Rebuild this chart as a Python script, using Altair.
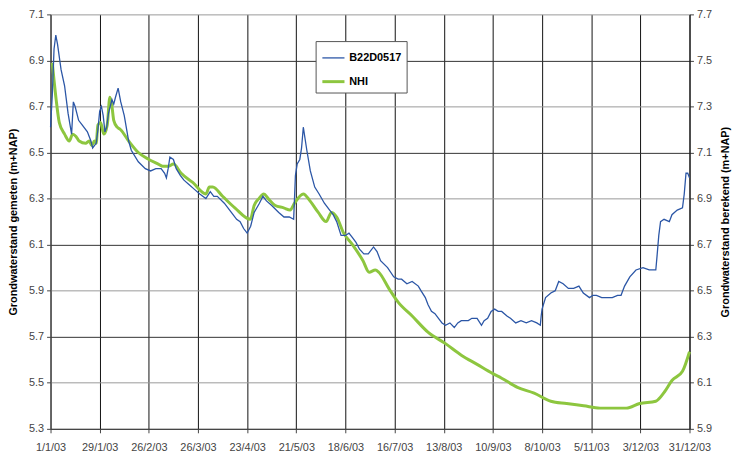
import altair as alt
import pandas as pd

# ---------------- data (days since 1 Jan 2003) ----------------
blue_name = "B22D0517"
green_name = "NHI"

blue_day = [0, 1, 2, 3, 4, 6, 8, 10, 12, 13, 14, 16, 18, 21, 23, 24, 26, 27, 28, 29,
            30, 31, 32, 33, 35, 36, 37, 38.5, 40, 42, 44.5, 46, 50, 54, 57, 60, 63, 65, 66, 67,
            68, 70, 71.6, 74, 76, 79, 82, 85, 88.5, 91, 93, 95, 99, 103, 106, 108, 110, 112, 114, 116,
            119, 121, 123, 126, 130, 133, 136, 138.5, 139.5, 140.5, 142, 143, 144, 145, 146, 148, 150.5, 153, 156, 159,
            161, 163, 165.5, 168, 170, 172, 174, 176, 178.5, 181, 184, 186, 188, 192, 195.5, 198, 200, 203, 206, 209.5,
            211, 213.5, 215, 217, 219, 221, 223, 225, 227.5, 230, 232, 234, 236, 238, 240, 243, 245.5, 247, 249, 251,
            253, 255, 257, 260, 262, 265, 268, 271, 274, 277, 279, 279.5, 280, 282, 285, 287.5, 289.5, 292, 295, 298,
            301, 303.5, 307, 309, 311, 314, 317, 320, 323, 325, 327, 330, 333.5, 337.5, 341, 344.8, 345.5, 346.5, 347.5, 349.5,
            352.5, 354, 357, 360, 361, 362, 363, 364]
blue_val = [6.61, 6.75, 6.95, 7.01, 6.97, 6.86, 6.79, 6.67, 6.58, 6.72, 6.70, 6.64, 6.62, 6.59, 6.55, 6.52, 6.54, 6.60, 6.68, 6.70,
            6.66, 6.59, 6.61, 6.67, 6.73, 6.71, 6.74, 6.78, 6.72, 6.66, 6.55, 6.51, 6.46, 6.43, 6.42, 6.43, 6.43, 6.41, 6.39, 6.43,
            6.48, 6.47, 6.43, 6.40, 6.38, 6.36, 6.34, 6.32, 6.30, 6.33, 6.31, 6.31, 6.28, 6.24, 6.21, 6.20, 6.17, 6.15, 6.18, 6.24,
            6.28, 6.31, 6.29, 6.27, 6.24, 6.22, 6.22, 6.21, 6.40, 6.45, 6.47, 6.52, 6.61, 6.56, 6.51, 6.42, 6.35, 6.32, 6.28, 6.25,
            6.23, 6.20, 6.14, 6.14, 6.15, 6.13, 6.11, 6.08, 6.06, 6.06, 6.09, 6.07, 6.03, 6.00, 5.96, 5.95, 5.95, 5.93, 5.94, 5.92,
            5.90, 5.87, 5.84, 5.81, 5.80, 5.78, 5.76, 5.75, 5.76, 5.74, 5.76, 5.77, 5.77, 5.77, 5.78, 5.78, 5.75, 5.77, 5.78, 5.81,
            5.82, 5.81, 5.81, 5.79, 5.78, 5.76, 5.77, 5.76, 5.77, 5.76, 5.75, 5.79, 5.82, 5.87, 5.89, 5.90, 5.94, 5.93, 5.91, 5.91,
            5.92, 5.89, 5.87, 5.88, 5.88, 5.87, 5.87, 5.87, 5.88, 5.88, 5.92, 5.96, 5.99, 6.00, 5.99, 5.99, 6.05, 6.14, 6.20, 6.21,
            6.20, 6.23, 6.25, 6.26, 6.32, 6.41, 6.41, 6.39]

green_day = [1, 3.2, 5, 8, 10.7, 12.6, 14.5, 16.3, 20, 22, 23.5, 25, 26, 27, 28.5, 30.4, 32.3, 33.8, 35, 36,
             38, 39.8, 44.5, 50, 56, 61.4, 64, 67, 70, 74.4, 81, 88.5, 90.5, 92.4, 98, 105, 113.8, 116, 118.7, 121.5,
             124, 128, 132.8, 136.5, 139, 144, 147.8, 152.5, 157, 160, 163, 167, 172, 178, 181.5, 185, 187, 192.7, 198, 206,
             215, 225, 234, 243, 252, 257, 266, 275.5, 285, 294, 303.7, 313, 328, 335.6, 344.8, 349.7, 354, 360, 364]
green_val = [7.49, 7.33, 7.23, 7.18, 7.15, 7.18, 7.17, 7.15, 7.14, 7.15, 7.13, 7.15, 7.14, 7.22, 7.23, 7.18, 7.22, 7.34, 7.30, 7.24,
             7.21, 7.20, 7.15, 7.10, 7.07, 7.05, 7.04, 7.04, 7.05, 7.01, 6.97, 6.92, 6.95, 6.95, 6.91, 6.86, 6.81, 6.87, 6.90, 6.92,
             6.90, 6.87, 6.86, 6.85, 6.88, 6.92, 6.89, 6.84, 6.80, 6.84, 6.82, 6.75, 6.70, 6.63, 6.58, 6.59, 6.58, 6.51, 6.45, 6.39,
             6.32, 6.27, 6.22, 6.18, 6.14, 6.12, 6.08, 6.055, 6.02, 6.01, 6.00, 5.99, 5.99, 6.01, 6.02, 6.06, 6.11, 6.15, 6.235]

x_tick_days = [0, 28, 56, 84, 112, 140, 168, 196, 224, 252, 280, 308, 336, 364]
x_tick_labels = ["1/1/03", "29/1/03", "26/2/03", "26/3/03", "23/4/03", "21/5/03", "18/6/03",
                 "16/7/03", "13/8/03", "10/9/03", "8/10/03", "5/11/03", "3/12/03", "31/12/03"]
left_ticks = [5.3, 5.5, 5.7, 5.9, 6.1, 6.3, 6.5, 6.7, 6.9, 7.1]
right_ticks = [5.9, 6.1, 6.3, 6.5, 6.7, 6.9, 7.1, 7.3, 7.5, 7.7]
left_title = "Grondwaterstand gemeten (m+NAP)"
right_title = "Grondwaterstand berekend (m+NAP)"

blue_df = pd.DataFrame({"day": blue_day, "value": blue_val, "series": blue_name})
green_df = pd.DataFrame({"day": green_day, "value": green_val, "series": green_name})

FONT = "Liberation Sans"
label_arr = "[" + ",".join("'" + s + "'" for s in x_tick_labels) + "]"

x_enc = alt.X(
    "day:Q",
    scale=alt.Scale(domain=[0, 364], nice=False, zero=False),
    axis=alt.Axis(
        values=x_tick_days, labelExpr=label_arr + "[round(datum.value/28)]",
        title=None, grid=True, gridColor="#111", gridWidth=1, gridOpacity=1,
        domainColor="#444", tickColor="#444", tickSize=4, labelPadding=9,
        labelFont=FONT, labelFontSize=11, labelColor="#444", labelFlush=False,
    ),
)

color_scale = alt.Scale(domain=[blue_name, green_name], range=["#2b56a6", "#8dc63f"])
width_scale = alt.Scale(domain=[blue_name, green_name], range=[1.3, 3])

blue = alt.Chart(blue_df).mark_line(interpolate="linear").encode(
    x=x_enc,
    y=alt.Y(
        "value:Q",
        scale=alt.Scale(domain=[5.3, 7.1], nice=False, zero=False),
        axis=alt.Axis(
            values=left_ticks, format=".1f", title=left_title, orient="left",
            grid=True,
            gridColor=alt.condition("round(datum.value*10) % 4 == 3", alt.value("#999"), alt.value("#333")),
            gridWidth=1, gridOpacity=1,
            domainColor="#444", tickColor="#444", tickSize=4, labelPadding=3,
            labelFont=FONT, labelFontSize=11, labelColor="#444",
            titleFont=FONT, titleFontSize=11, titleFontWeight="bold", titleColor="#000",
            titlePadding=10,
        ),
    ),
    color=alt.Color("series:N", scale=color_scale, title=None),
    strokeWidth=alt.StrokeWidth("series:N", scale=width_scale, title=None),
)

green = alt.Chart(green_df).mark_line(interpolate="monotone").encode(
    x=x_enc,
    y=alt.Y(
        "value:Q",
        scale=alt.Scale(domain=[5.9, 7.7], nice=False, zero=False),
        axis=alt.Axis(
            values=right_ticks, format=".1f", title=right_title, orient="right",
            grid=False, domainColor="#111", tickColor="#444", tickSize=4, labelPadding=3,
            labelFont=FONT, labelFontSize=11, labelColor="#444",
            titleFont=FONT, titleFontSize=11, titleFontWeight="bold", titleColor="#000",
            titleAngle=270, titlePadding=19,
        ),
    ),
    color=alt.Color("series:N", scale=color_scale, title=None),
    strokeWidth=alt.StrokeWidth("series:N", scale=width_scale, title=None),
)

chart = alt.layer(green, blue).resolve_scale(y="independent").properties(
    width=646, height=419,
    autosize=alt.AutoSizeParams(type="none"),
    padding={"left": 43, "top": 4, "right": 47, "bottom": 25},
).configure_view(stroke=None).configure_legend(
    orient="none", legendX=268, legendY=27,
    symbolType="stroke", symbolSize=500, symbolStrokeColor="#2b56a6",
    labelFont=FONT, labelFontSize=11, labelFontWeight="bold", labelColor="#000",
    strokeColor="#555", fillColor="#ffffff", padding=5, rowPadding=6,
    labelOffset=3, cornerRadius=0,
)

chart.save("out.html", embed_options={"renderer": "svg", "actions": False})
